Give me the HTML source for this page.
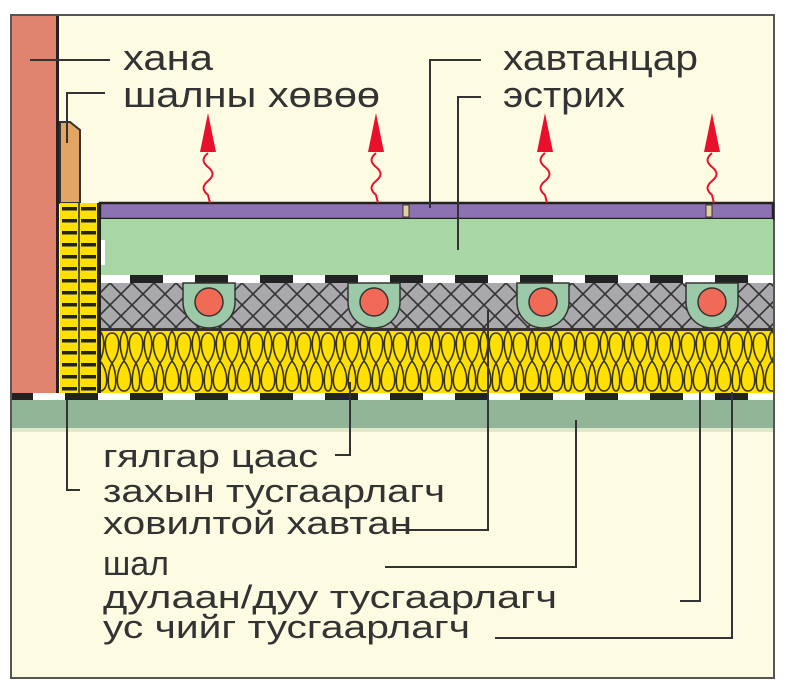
<!DOCTYPE html>
<html><head><meta charset="utf-8"><style>
html,body{margin:0;padding:0;background:#fff;}
svg{display:block}
text{font-family:"Liberation Sans","DejaVu Sans",sans-serif;fill:#333}
</style></head><body>
<svg width="788" height="693" viewBox="0 0 788 693" xmlns="http://www.w3.org/2000/svg">
<defs>
<pattern id="hatch" x="0" y="283" width="22" height="22" patternUnits="userSpaceOnUse">
<rect width="22" height="22" fill="#a9a9ad"/>
<path d="M0 0L22 22M22 0L0 22" stroke="#333" stroke-width="1.6"/>
</pattern>
<pattern id="wool" x="100" y="331" width="24" height="62" patternUnits="userSpaceOnUse">
<rect width="24" height="62" fill="#ffe000"/>
<g fill="none" stroke="#3a3410" stroke-width="1.6">
<path d="M12 32 C3 22 3 2 12 2 C21 2 21 22 12 32"/>
<path d="M0 30 C9 40 9 60 0 60"/>
<path d="M24 30 C15 40 15 60 24 60"/>
<path d="M0 0 C5 6 5 18 0 30 M24 0 C19 6 19 18 24 30"/>
<path d="M12 32 C7 42 7 60 12 60 C17 60 17 42 12 32"/>
</g>
</pattern>
<pattern id="edge" x="60" y="203" width="19" height="12" patternUnits="userSpaceOnUse">
<rect width="19" height="12" fill="#ffe000"/>
<rect x="2" y="4" width="15" height="3.5" fill="#222"/>
</pattern>
<pattern id="dash" x="0" y="0" width="65" height="10" patternUnits="userSpaceOnUse">
<rect width="65" height="10" fill="#222"/>
<rect x="33" width="32" height="10" fill="#fff"/>
</pattern>
</defs>
<rect x="0" y="0" width="788" height="693" fill="#fff"/>
<rect x="11" y="15" width="763" height="663" fill="#fefbe3" stroke="#555" stroke-width="2"/>
<rect x="12" y="400" width="761" height="28" fill="#93b597"/>
<rect x="12" y="428" width="761" height="4" fill="#dfe8c8"/>
<rect x="12" y="393" width="761" height="7" fill="url(#dash)"/>
<rect x="12" y="16" width="45" height="377" fill="#e0836f"/>
<rect x="56" y="16" width="3" height="377" fill="#222"/>
<path d="M60 122 L70 122 L80 130 L80 203 L60 203Z" fill="#e3a563" stroke="#333" stroke-width="2"/>
<rect x="60" y="203" width="39" height="190" fill="url(#edge)"/>
<line x1="79" y1="203" x2="79" y2="393" stroke="#222" stroke-width="1.5"/>
<rect x="97" y="203" width="4" height="190" fill="#222"/>
<rect x="100" y="203" width="673" height="16" fill="#8c72b0" stroke="#222" stroke-width="2.5"/>
<rect x="403" y="205" width="6" height="12" fill="#e6d0a0" stroke="#333" stroke-width="1"/>
<rect x="706" y="205" width="6" height="12" fill="#e6d0a0" stroke="#333" stroke-width="1"/>
<rect x="101" y="219" width="672" height="56" fill="#a9d6a5"/>
<rect x="101" y="240" width="4" height="25" fill="#fff"/>
<rect x="101" y="275" width="672" height="8" fill="url(#dash)"/>
<rect x="101" y="283" width="672" height="46" fill="url(#hatch)"/>
<rect x="101" y="328" width="672" height="3" fill="#333"/>
<g stroke="#333" stroke-width="1.5">
<path d="M183 283 L183 302 A26 26 0 0 0 235 302 L235 283Z" fill="#9cc9a8"/>
<circle cx="209" cy="302" r="14" fill="#f06a55"/>
<path d="M348 283 L348 302 A26 26 0 0 0 400 302 L400 283Z" fill="#9cc9a8"/>
<circle cx="374" cy="302" r="14" fill="#f06a55"/>
<path d="M517 283 L517 302 A26 26 0 0 0 569 302 L569 283Z" fill="#9cc9a8"/>
<circle cx="543" cy="302" r="14" fill="#f06a55"/>
<path d="M686 283 L686 302 A26 26 0 0 0 738 302 L738 283Z" fill="#9cc9a8"/>
<circle cx="712" cy="302" r="14" fill="#f06a55"/>
</g>
<rect x="101" y="331" width="672" height="62" fill="url(#wool)"/>
<g fill="#e8102a" stroke="#e8102a">
<path d="M208 113 L200 152 L216 152Z" stroke="none"/>
<path d="M208 153 c-6 5 -6 9 0 14 c6 5 6 9 0 14 c-6 5 -6 9 0 14 l2 8" fill="none" stroke-width="2"/>
<path d="M376 113 L368 152 L384 152Z" stroke="none"/>
<path d="M376 153 c-6 5 -6 9 0 14 c6 5 6 9 0 14 c-6 5 -6 9 0 14 l2 8" fill="none" stroke-width="2"/>
<path d="M545 113 L537 152 L553 152Z" stroke="none"/>
<path d="M545 153 c-6 5 -6 9 0 14 c6 5 6 9 0 14 c-6 5 -6 9 0 14 l2 8" fill="none" stroke-width="2"/>
<path d="M712 113 L704 152 L720 152Z" stroke="none"/>
<path d="M712 153 c-6 5 -6 9 0 14 c6 5 6 9 0 14 c-6 5 -6 9 0 14 l2 8" fill="none" stroke-width="2"/>
</g>
<g stroke="#333" stroke-width="2" fill="none">
<path d="M30 60 L110 60"/>
<path d="M105 93 L67 93 L67 143"/>
<path d="M481 60 L430 60 L430 208"/>
<path d="M481 97 L458 97 L458 250"/>
<path d="M335 455 L350 455 L350 382"/>
<path d="M67 400 L67 490 L80 490"/>
<path d="M395 530 L488 530 L488 310"/>
<path d="M385 567 L576 567 L576 420"/>
<path d="M680 601 L700 601 L700 392"/>
<path d="M495 638 L732 638 L732 392"/>
</g>
<g font-size="36">
<text x="123" y="70" textLength="90" lengthAdjust="spacingAndGlyphs">хана</text>
<text x="123" y="107" textLength="257" lengthAdjust="spacingAndGlyphs">шалны хөвөө</text>
<text x="503" y="70" textLength="195" lengthAdjust="spacingAndGlyphs">хавтанцар</text>
<text x="503" y="107" textLength="122" lengthAdjust="spacingAndGlyphs">эстрих</text>
</g>
<g font-size="32">
<text x="103" y="467" textLength="215" lengthAdjust="spacingAndGlyphs">гялгар цаас</text>
<text x="103" y="502" textLength="342" lengthAdjust="spacingAndGlyphs">захын тусгаарлагч</text>
<text x="103" y="534" textLength="309" lengthAdjust="spacingAndGlyphs">ховилтой хавтан</text>
<text x="103" y="575" font-size="34">шал</text>
<text x="103" y="608" textLength="454" lengthAdjust="spacingAndGlyphs">дулаан/дуу тусгаарлагч</text>
<text x="103" y="638" textLength="367" lengthAdjust="spacingAndGlyphs">ус чийг тусгаарлагч</text>
</g>
</svg>
</body></html>
